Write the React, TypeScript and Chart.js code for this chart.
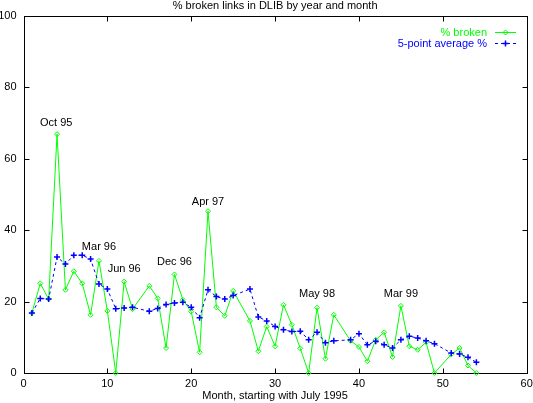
import { useEffect, useRef } from "react"
import { Chart, registerables, type Plugin } from "chart.js"

Chart.register(...registerables)

// months since July 1995 (some months have no sample)
const months = [
  1, 2, 3, 4, 5, 6, 7, 8, 9, 10, 11, 12, 13,
  15, 16, 17, 18, 19, 20, 21, 22, 23, 24, 25,
  27, 28, 29, 30, 31, 32, 33, 34, 35, 36, 37,
  39, 40, 41, 42, 43, 44, 45, 46, 47, 48, 49,
  51, 52, 53, 54,
]
const brokenPct = [
  16.8, 25.1, 20.7, 66.9, 23.3, 28.5, 25.1, 16.3, 31.4, 17.4, 0, 25.6, 17.9,
  24.4, 20.9, 7.0, 27.6, 20.5, 17.2, 5.8, 45.3, 18.4, 16.0, 23.0,
  14.6, 6.1, 13.0, 7.5, 19.1, 13.5, 6.9, 0, 18.3, 4.0, 16.3,
  9.0, 7.3, 3.3, 9.3, 11.4, 4.5, 18.8, 7.5, 6.5, 8.6, 0,
  5.2, 7.0, 2.1, 0,
]
const avgPct = [
  16.8, 20.9, 20.7, 32.5, 30.5, 33.0, 33.0, 31.9, 24.9, 23.5, 18.0, 18.2, 18.4,
  17.3, 18.1, 19.2, 19.6, 19.8, 18.4, 15.5, 23.3, 21.4, 20.7, 21.7,
  23.5, 15.7, 14.6, 13.0, 12.1, 11.6, 11.7, 9.3, 11.4, 8.5, 9.0,
  9.3, 11.0, 7.9, 8.9, 7.9, 7.0, 9.3, 10.3, 9.8, 9.0, 8.2,
  5.6, 5.3, 4.4, 3.0,
]

const noteText = ["Oct 95", "Mar 96", "Jun 96", "Dec 96", "Apr 97", "May 98", "Mar 99"]
const noteMonth = [3.9, 9, 12, 18, 22, 35, 45]
const notePct = [70, 35.2, 29.1, 31.2, 47.9, 22.1, 22.1]

const xTicks = [0, 10, 20, 30, 40, 50, 60]
const yTicks = [0, 20, 40, 60, 80, 100]

const GREEN = "#00ff00"
const BLUE = "#0000ff"
const FONT = "11px 'Liberation Sans', Arial, sans-serif"

// gnuplot-like box with inward ticks on every side
const framePlugin: Plugin = {
  id: "frame",
  beforeDatasetsDraw(chart) {
    const { ctx, chartArea: a, scales } = chart
    const L = Math.round(a.left) + 0.5
    const R = Math.round(a.right) + 0.5
    const T = Math.round(a.top) + 0.5
    const B = Math.round(a.bottom) + 0.5
    ctx.save()
    ctx.strokeStyle = "#000"
    ctx.lineWidth = 1
    ctx.strokeRect(L, T, R - L, B - T)
    ctx.beginPath()
    for (const v of xTicks) {
      const px = Math.round(scales.x.getPixelForValue(v)) + 0.5
      ctx.moveTo(px, B); ctx.lineTo(px, B - 5)
      ctx.moveTo(px, T); ctx.lineTo(px, T + 5)
    }
    for (const v of yTicks) {
      const py = Math.round(scales.y.getPixelForValue(v)) + 0.5
      ctx.moveTo(L, py); ctx.lineTo(L + 5, py)
      ctx.moveTo(R, py); ctx.lineTo(R - 5, py)
    }
    ctx.stroke()
    ctx.restore()
  },
  afterDraw(chart) {
    const { ctx, chartArea: a, scales } = chart
    const cx = (a.left + a.right) / 2
    ctx.save()
    ctx.font = FONT
    ctx.fillStyle = "#000"
    ctx.textAlign = "center"
    ctx.textBaseline = "middle"
    ctx.fillText("% broken links in DLIB by year and month", cx, 5.5)
    ctx.fillText("Month, starting with July 1995", cx, 395.5)
    noteText.forEach((t, i) => {
      ctx.fillText(t, scales.x.getPixelForValue(noteMonth[i]), scales.y.getPixelForValue(notePct[i]))
    })

    // key
    const tx = 487
    const lx0 = 495
    const lx1 = 516
    const mx = 505.5
    ctx.textAlign = "right"
    const y1 = 32.5
    ctx.fillStyle = GREEN
    ctx.fillText("% broken", tx, y1)
    ctx.strokeStyle = GREEN
    ctx.lineWidth = 1
    ctx.beginPath()
    ctx.moveTo(lx0, y1); ctx.lineTo(lx1, y1)
    ctx.moveTo(mx - 2.5, y1); ctx.lineTo(mx, y1 - 2.5); ctx.lineTo(mx + 2.5, y1); ctx.lineTo(mx, y1 + 2.5); ctx.closePath()
    ctx.stroke()

    const y2 = 43.5
    ctx.fillStyle = BLUE
    ctx.fillText("5-point average %", tx, y2)
    ctx.strokeStyle = BLUE
    ctx.setLineDash([3, 3])
    ctx.beginPath()
    ctx.moveTo(lx0, y2); ctx.lineTo(lx1, y2)
    ctx.stroke()
    ctx.setLineDash([])
    ctx.lineWidth = 1.5
    ctx.beginPath()
    ctx.moveTo(mx - 3, y2); ctx.lineTo(mx + 3, y2)
    ctx.moveTo(mx, y2 - 3); ctx.lineTo(mx, y2 + 3)
    ctx.stroke()
    ctx.restore()
  },
}

export default function App() {
  const canvasRef = useRef<HTMLCanvasElement>(null)
  const chartRef = useRef<Chart | null>(null)

  useEffect(() => {
    document.body.style.margin = "0"
    if (!canvasRef.current) return
    if (chartRef.current) chartRef.current.destroy()

    chartRef.current = new Chart(canvasRef.current, {
      type: "line",
      data: {
        datasets: [
          {
            label: "% broken",
            data: months.map((m, i) => ({ x: m, y: brokenPct[i] })),
            borderColor: GREEN,
            backgroundColor: "rgba(0,0,0,0)",
            borderWidth: 1,
            pointStyle: "rectRot",
            pointRadius: 2.5,
            pointBorderWidth: 1,
            pointBorderColor: GREEN,
            tension: 0,
            clip: false,
            order: 2,
          },
          {
            label: "5-point average %",
            data: months.map((m, i) => ({ x: m, y: avgPct[i] })),
            borderColor: BLUE,
            backgroundColor: "rgba(0,0,0,0)",
            borderWidth: 1,
            borderDash: [3, 3],
            pointStyle: "cross",
            pointRadius: 3,
            pointBorderWidth: 1.5,
            pointBorderColor: BLUE,
            tension: 0,
            clip: false,
            order: 1,
          },
        ],
      },
      options: {
        animation: false,
        responsive: true,
        maintainAspectRatio: false,
        layout: { padding: { left: 0, right: 6.3, top: 16, bottom: 0 } },
        plugins: {
          legend: { display: false },
          tooltip: { enabled: false },
        },
        scales: {
          x: {
            type: "linear",
            min: 0,
            max: 60,
            grid: { display: false, drawTicks: false },
            border: { display: false },
            ticks: {
              stepSize: 10,
              padding: 4,
              color: "#000",
              font: { family: "'Liberation Sans', Arial, sans-serif", size: 11 },
              maxRotation: 0,
            },
            afterFit: (s: any) => {
              s.height = 30
              s.paddingLeft = 0
              s.paddingRight = 0
            },
          },
          y: {
            min: 0,
            max: 100,
            grid: { display: false, drawTicks: false },
            border: { display: false },
            ticks: {
              stepSize: 20,
              padding: 7,
              color: "#000",
              font: { family: "'Liberation Sans', Arial, sans-serif", size: 11 },
            },
            afterFit: (s: any) => {
              s.width = 23.5
              s.paddingTop = 0
              s.paddingBottom = 0
            },
          },
        },
      },
      plugins: [framePlugin],
    })

    return () => {
      if (chartRef.current) {
        chartRef.current.destroy()
        chartRef.current = null
      }
    }
  }, [])

  return (
    <div style={{ width: 533, height: 403, position: "relative" }}>
      <canvas ref={canvasRef} />
    </div>
  )
}
